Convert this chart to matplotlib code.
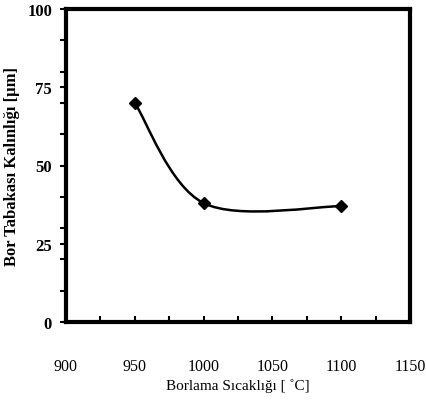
import matplotlib
matplotlib.use("Agg")
import matplotlib.pyplot as plt
from matplotlib.path import Path
from matplotlib.patches import PathPatch
import numpy as np

# Data
temps = [950, 1000, 1100]
thickness = [70, 38, 37]
xticks = [900, 950, 1000, 1050, 1100, 1150]
yticks = [0, 25, 50, 75, 100]

fig = plt.figure(figsize=(4.26, 4.02), dpi=100)
ax = fig.add_axes([66/426, 1 - 323/402, (410 - 66)/426, (323 - 10)/402])

# Smoothed line (Catmull-Rom style Bezier, like spreadsheet smoothing)
pts = np.array(list(zip(temps, thickness)), dtype=float)
verts = [tuple(pts[0])]
codes = [Path.MOVETO]
n = len(pts)
for i in range(n - 1):
    p0 = pts[i - 1] if i > 0 else pts[i]
    p1 = pts[i]
    p2 = pts[i + 1]
    p3 = pts[i + 2] if i + 2 < n else pts[i + 1]
    c1 = p1 + (p2 - p0) / 6.0
    c2 = p2 - (p3 - p1) / 6.0
    verts += [tuple(c1), tuple(c2), tuple(p2)]
    codes += [Path.CURVE4] * 3
ax.add_patch(PathPatch(Path(verts, codes), fill=False, lw=1.8, color='black'))
ax.plot(temps, thickness, linestyle='none', marker='D', markersize=6,
        color='black')

ax.set_xlim(900, 1150)
ax.set_ylim(0, 100)
ax.set_xticks(xticks)
ax.set_xticks([925, 975, 1025, 1075, 1125], minor=True)
ax.set_yticks(yticks)
ax.set_yticks([10, 20, 30, 40, 60, 70, 80, 90], minor=True)

ax.set_xticklabels([str(v) for v in xticks], family='Liberation Serif', fontsize=11.5)
ax.set_yticklabels([str(v) for v in yticks], family='Liberation Serif',
                   fontsize=12, fontweight='bold')

ax.tick_params(axis='x', which='both', direction='in', length=4, width=1.5, pad=26)
ax.tick_params(axis='y', which='both', direction='out', length=4, width=1.5, pad=6)

for s in ax.spines.values():
    s.set_linewidth(3)

ax.set_xlabel('Borlama Sıcaklığı [ ˚C]', family='Liberation Serif', fontsize=11,
              labelpad=3)
ax.set_ylabel('Bor Tabakası Kalınlığı [µm]', family='Liberation Serif',
              fontsize=12, fontweight='bold', labelpad=5)

fig.savefig('out.png', dpi=100)
